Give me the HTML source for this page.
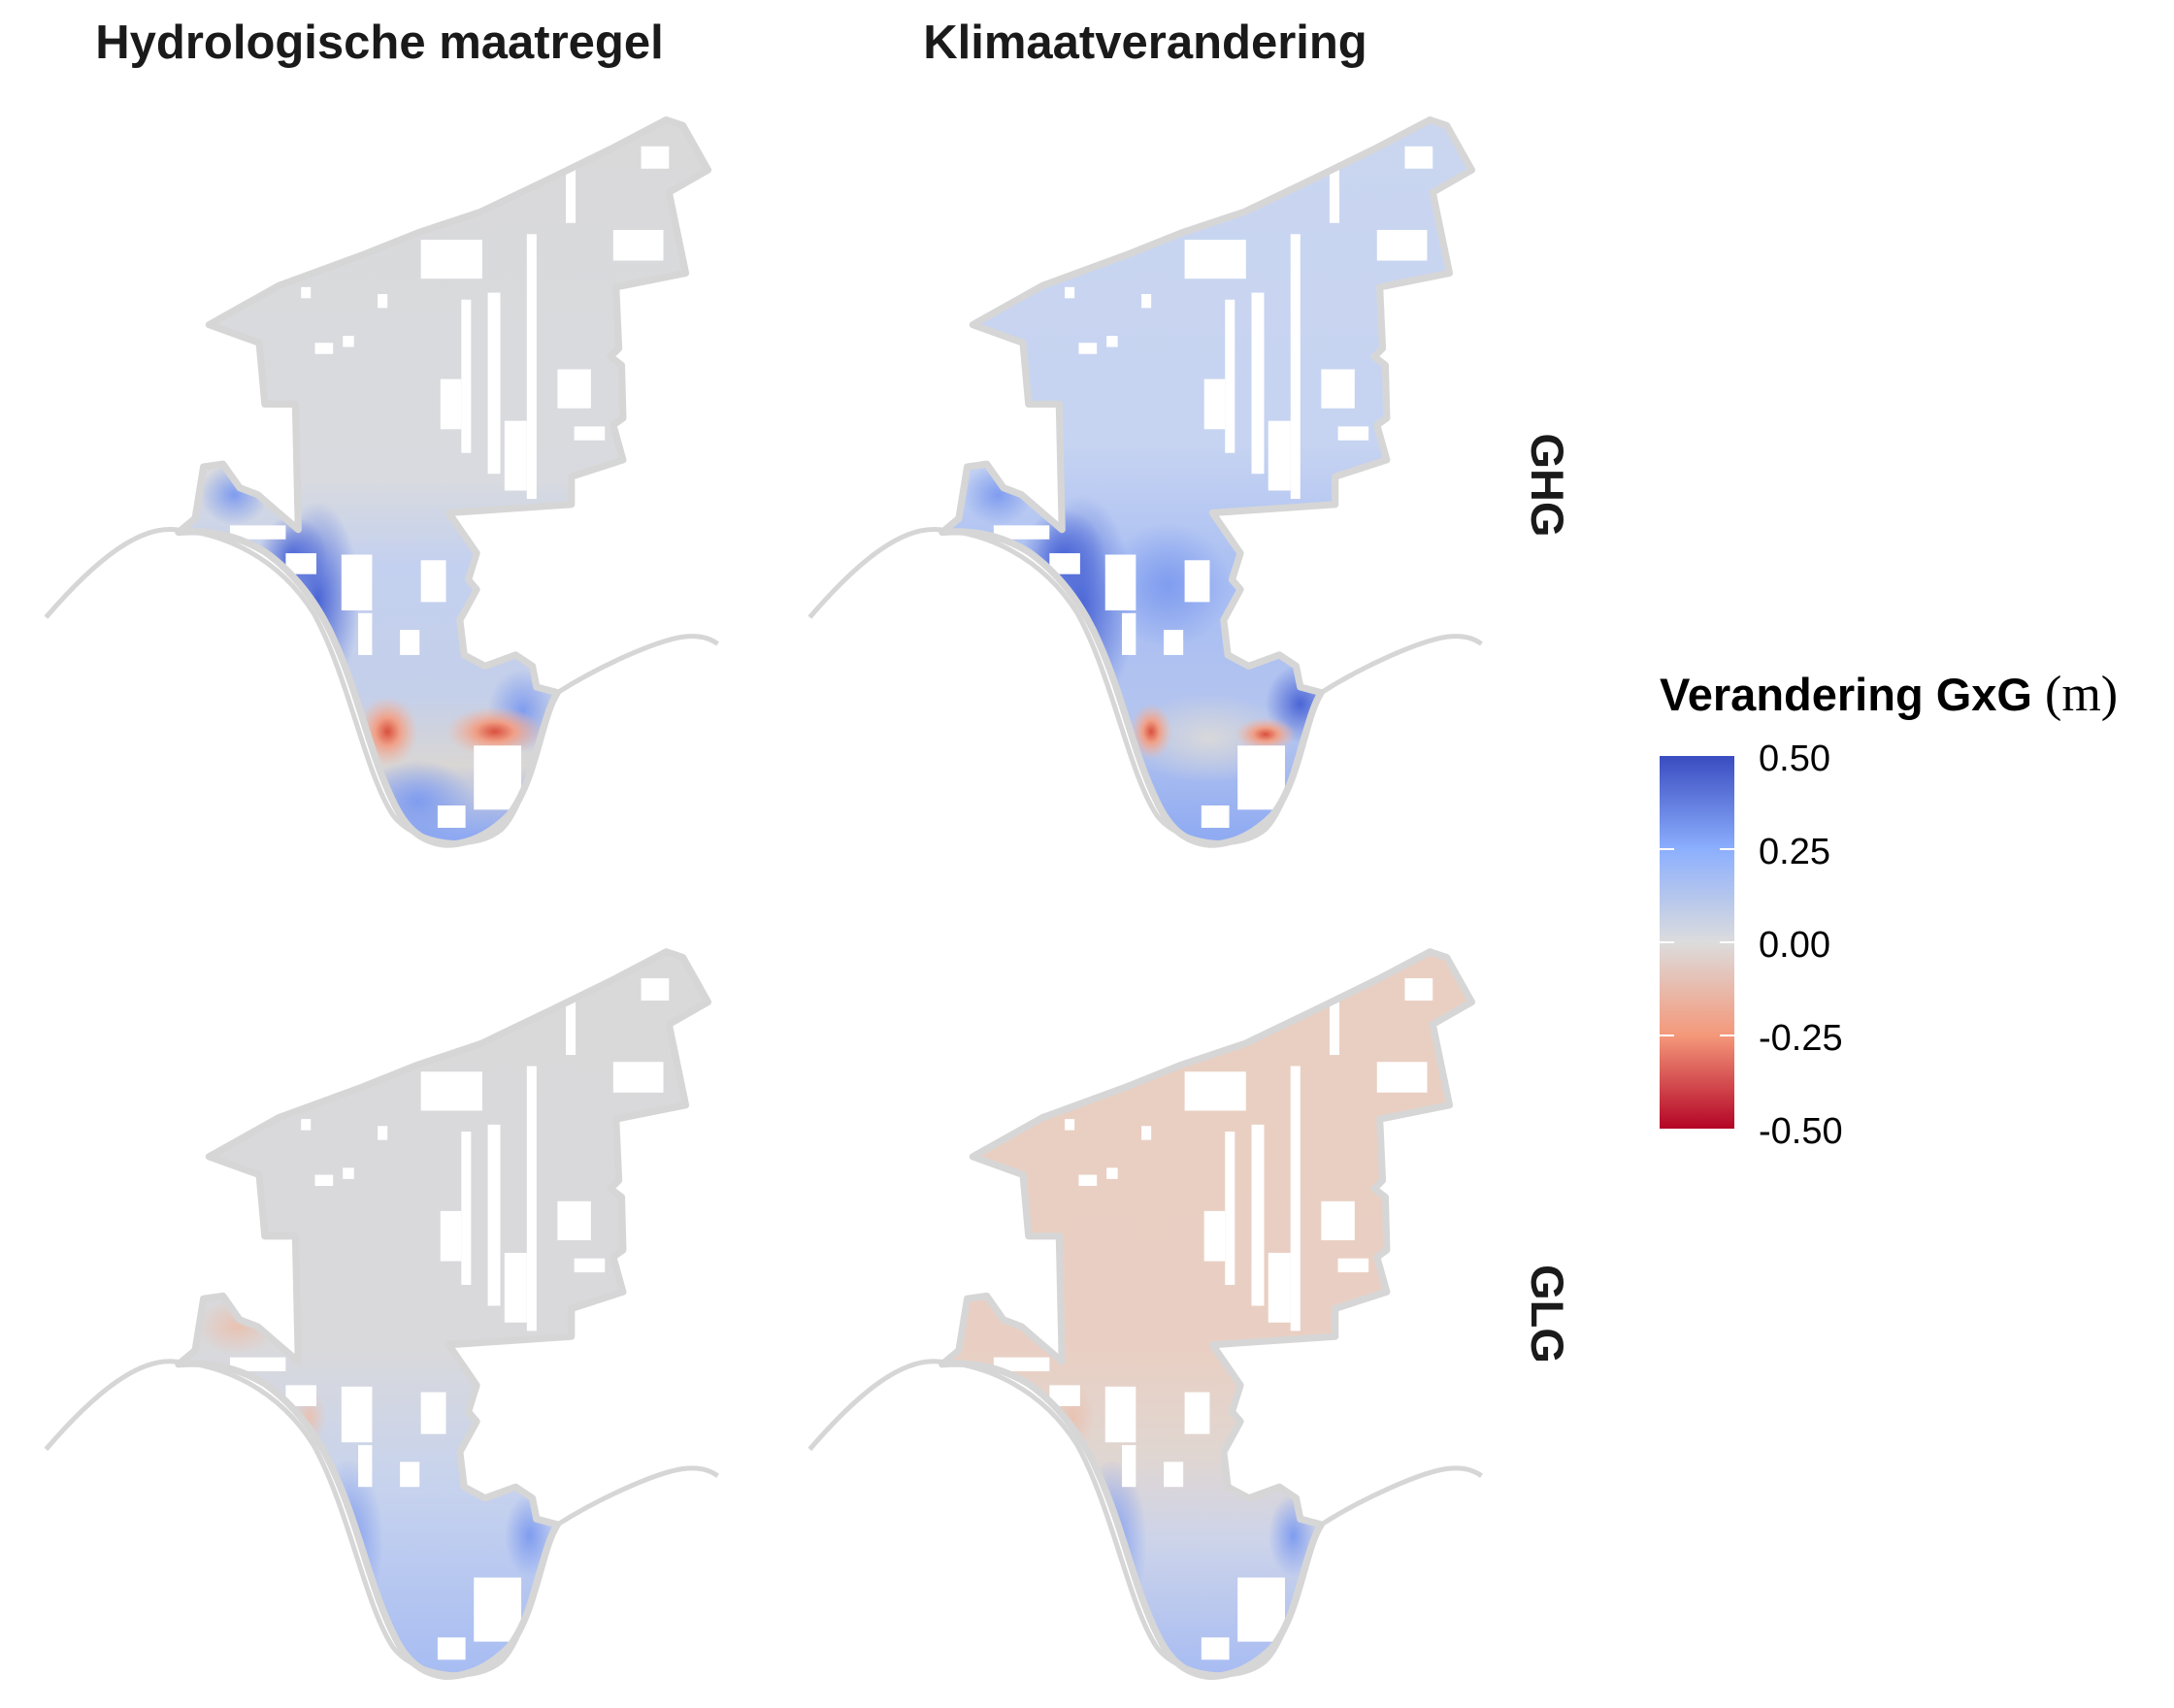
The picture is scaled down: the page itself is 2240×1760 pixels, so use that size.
<!DOCTYPE html>
<html><head><meta charset="utf-8"><style>
html,body{margin:0;padding:0;background:#fff;overflow:hidden;width:2240px;height:1760px}
svg{display:block}
</style></head><body>
<svg width="2240" height="1760" viewBox="0 0 2240 1760" xmlns="http://www.w3.org/2000/svg">
<defs>
<path id="shape" d="M150,233 L200,205 L260,183 L300,167 L345,152 L395,128 L440,106 L478,86 L490,90 L508,122 L480,138 L492,196 L442,206 L444,250 L438,256 L446,262 L447,300 L440,305 L447,330 L410,342 L410,362 L322,368 L342,397 L336,416 L342,423 L330,445 L333,470 L348,478 L370,470 L382,478 L385,493 L400,497 C388,515 385,560 365,585 C350,600 335,606 320,606 C300,604 290,592 282,575 C265,540 258,500 240,460 C228,432 210,410 190,396 C170,384 150,380 128,382 L140,372 L146,335 L160,333 L172,350 L185,355 L200,368 L214,380 L212,290 L190,290 L186,246 Z"/>
<clipPath id="cp"><use href="#shape"/></clipPath>
<g id="holes" fill="#fff">
<rect x="302" y="172" width="44" height="28"/>
<rect x="378" y="168" width="7" height="190"/>
<rect x="350" y="210" width="9" height="130"/>
<rect x="331" y="215" width="7" height="110"/>
<rect x="440" y="165" width="36" height="22"/>
<rect x="460" y="105" width="20" height="16"/>
<rect x="406" y="120" width="7" height="40"/>
<rect x="316" y="272" width="15" height="36"/>
<rect x="400" y="265" width="24" height="28"/>
<rect x="412" y="306" width="22" height="10"/>
<rect x="362" y="302" width="16" height="50"/>
<rect x="302" y="402" width="18" height="30"/>
<rect x="245" y="398" width="22" height="40"/>
<rect x="205" y="397" width="22" height="15"/>
<rect x="340" y="535" width="34" height="46"/>
<rect x="314" y="578" width="20" height="16"/>
<rect x="287" y="452" width="14" height="18"/>
<rect x="226" y="246" width="13" height="8"/>
<rect x="246" y="241" width="8" height="8"/>
<rect x="271" y="211" width="7" height="10"/>
<rect x="216" y="206" width="7" height="8"/>
<rect x="165" y="377" width="40" height="10"/>
<rect x="257" y="440" width="10" height="30"/>
</g>
<path id="coast" d="M33,443 C70,400 100,378 125,380 C160,382 200,400 225,440 C250,485 262,555 282,585 C298,606 340,612 360,595 C380,575 385,520 400,497 C430,478 470,460 490,457 C505,455 512,460 515,462"/>

<linearGradient id="gTL" x1="0" y1="90" x2="0" y2="600" gradientUnits="userSpaceOnUse">
<stop offset="0" stop-color="#d9d9da"/><stop offset="0.5" stop-color="#d8dadf"/><stop offset="0.62" stop-color="#c3d0ef"/><stop offset="0.8" stop-color="#c4cfea"/><stop offset="0.9" stop-color="#d9d6d4"/><stop offset="1" stop-color="#8ea9f2"/></linearGradient>
<linearGradient id="gTR" x1="0" y1="90" x2="0" y2="600" gradientUnits="userSpaceOnUse">
<stop offset="0" stop-color="#cad6f0"/><stop offset="0.45" stop-color="#c6d3f1"/><stop offset="0.65" stop-color="#a7bdf3"/><stop offset="0.85" stop-color="#b5c5ee"/><stop offset="1" stop-color="#90abf2"/></linearGradient>
<linearGradient id="gBL" x1="0" y1="90" x2="0" y2="600" gradientUnits="userSpaceOnUse">
<stop offset="0" stop-color="#d9d9da"/><stop offset="0.55" stop-color="#d9d9dc"/><stop offset="0.75" stop-color="#c6d2ee"/><stop offset="1" stop-color="#a8bdf2"/></linearGradient>
<linearGradient id="gBR" x1="0" y1="90" x2="0" y2="600" gradientUnits="userSpaceOnUse">
<stop offset="0" stop-color="#e9cfc2"/><stop offset="0.55" stop-color="#e9cfc3"/><stop offset="0.7" stop-color="#e0d6d1"/><stop offset="0.82" stop-color="#cdd4ea"/><stop offset="1" stop-color="#a9bdf2"/></linearGradient>
<radialGradient id="blueS" cx="0.5" cy="0.5" r="0.5"><stop offset="0" stop-color="#4a65d6"/><stop offset="1" stop-color="#4a65d6" stop-opacity="0"/></radialGradient>
<radialGradient id="blueW" cx="0.5" cy="0.5" r="0.5"><stop offset="0" stop-color="#7f9cef"/><stop offset="1" stop-color="#7f9cef" stop-opacity="0"/></radialGradient>
<radialGradient id="grayR" cx="0.5" cy="0.5" r="0.5"><stop offset="0" stop-color="#d8d8da"/><stop offset="1" stop-color="#d8d8da" stop-opacity="0"/></radialGradient>
<radialGradient id="red" cx="0.5" cy="0.5" r="0.5"><stop offset="0" stop-color="#d9503d"/><stop offset="0.4" stop-color="#f0a088"/><stop offset="1" stop-color="#f0b8a5" stop-opacity="0"/></radialGradient>
<radialGradient id="salmon" cx="0.5" cy="0.5" r="0.5"><stop offset="0" stop-color="#e9c2b2"/><stop offset="1" stop-color="#e9c2b2" stop-opacity="0"/></radialGradient>
<linearGradient id="leg" x1="0" y1="0" x2="0" y2="1">
<stop offset="0" stop-color="#3a4cc0"/><stop offset="0.25" stop-color="#8caffe"/><stop offset="0.5" stop-color="#dcdcdd"/><stop offset="0.75" stop-color="#f4987a"/><stop offset="1" stop-color="#b40426"/></linearGradient>
</defs>

<g transform="scale(1.436)">
<g>
<g clip-path="url(#cp)">
<rect x="0" y="0" width="600" height="700" fill="url(#gTL)"/>
<ellipse cx="228" cy="430" rx="30" ry="70" fill="url(#blueS)"/>
<ellipse cx="210" cy="400" rx="25" ry="30" fill="url(#blueS)"/>
<ellipse cx="300" cy="575" rx="40" ry="30" fill="url(#blueW)"/>
<ellipse cx="375" cy="510" rx="25" ry="30" fill="url(#blueW)"/>
<ellipse cx="168" cy="355" rx="25" ry="22" fill="url(#blueW)"/>
<ellipse cx="278" cy="525" rx="22" ry="25" fill="url(#red)"/>
<ellipse cx="355" cy="525" rx="35" ry="18" fill="url(#red)"/>
<use href="#holes"/>
</g>
<use href="#shape" fill="none" stroke="#d6d6d6" stroke-width="5" stroke-linejoin="round"/>
<use href="#coast" fill="none" stroke="#d6d6d6" stroke-width="3.5"/>
</g>
<g transform="translate(548,0)">
<g clip-path="url(#cp)">
<rect x="0" y="0" width="600" height="700" fill="url(#gTR)"/>
<ellipse cx="228" cy="435" rx="38" ry="80" fill="url(#blueS)"/>
<ellipse cx="215" cy="400" rx="30" ry="35" fill="url(#blueS)"/>
<ellipse cx="290" cy="420" rx="45" ry="45" fill="url(#blueW)"/>
<ellipse cx="385" cy="505" rx="25" ry="28" fill="url(#blueS)"/>
<ellipse cx="168" cy="355" rx="25" ry="22" fill="url(#blueW)"/>
<ellipse cx="320" cy="530" rx="60" ry="32" fill="url(#grayR)"/>
<ellipse cx="278" cy="525" rx="15" ry="20" fill="url(#red)"/>
<ellipse cx="360" cy="527" rx="22" ry="12" fill="url(#red)"/>
<use href="#holes"/>
</g>
<use href="#shape" fill="none" stroke="#d6d6d6" stroke-width="5" stroke-linejoin="round"/>
<use href="#coast" fill="none" stroke="#d6d6d6" stroke-width="3.5"/>
</g>
<g transform="translate(0,597)">
<g clip-path="url(#cp)">
<rect x="0" y="0" width="600" height="700" fill="url(#gBL)"/>
<ellipse cx="250" cy="510" rx="25" ry="60" fill="url(#blueW)"/>
<ellipse cx="380" cy="505" rx="18" ry="30" fill="url(#blueW)"/>
<ellipse cx="222" cy="420" rx="12" ry="20" fill="url(#salmon)"/>
<ellipse cx="170" cy="355" rx="30" ry="20" fill="url(#salmon)"/>
<use href="#holes"/>
</g>
<use href="#shape" fill="none" stroke="#d6d6d6" stroke-width="5" stroke-linejoin="round"/>
<use href="#coast" fill="none" stroke="#d6d6d6" stroke-width="3.5"/>
</g>
<g transform="translate(548,597)">
<g clip-path="url(#cp)">
<rect x="0" y="0" width="600" height="700" fill="url(#gBR)"/>
<ellipse cx="250" cy="510" rx="25" ry="60" fill="url(#blueW)"/>
<ellipse cx="380" cy="505" rx="18" ry="30" fill="url(#blueW)"/>
<ellipse cx="222" cy="420" rx="15" ry="25" fill="url(#salmon)"/>
<use href="#holes"/>
</g>
<use href="#shape" fill="none" stroke="#d6d6d6" stroke-width="5" stroke-linejoin="round"/>
<use href="#coast" fill="none" stroke="#d6d6d6" stroke-width="3.5"/>
</g>
</g>

<g font-family="Liberation Sans, sans-serif" fill="#1a1a1a">
<text x="391" y="60" font-size="49" font-weight="bold" text-anchor="middle">Hydrologische maatregel</text>
<text x="1180" y="60" font-size="49" font-weight="bold" text-anchor="middle">Klimaatverandering</text>
<text transform="translate(1578,500) rotate(90)" font-size="47" font-weight="bold" text-anchor="middle">GHG</text>
<text transform="translate(1578,1354) rotate(90)" font-size="47" font-weight="bold" text-anchor="middle">GLG</text>
</g>
<g font-family="Liberation Sans, sans-serif" fill="#000">
<text x="1710" y="732" font-size="47" font-weight="bold">Verandering GxG <tspan font-family="Liberation Serif, serif" font-weight="normal" font-size="52">(m)</tspan></text>
<rect x="1710" y="779" width="77" height="384" fill="url(#leg)"/>
<g stroke="#fff" stroke-width="2">
<line x1="1710" y1="875" x2="1725" y2="875"/><line x1="1772" y1="875" x2="1787" y2="875"/>
<line x1="1710" y1="971" x2="1725" y2="971"/><line x1="1772" y1="971" x2="1787" y2="971"/>
<line x1="1710" y1="1067" x2="1725" y2="1067"/><line x1="1772" y1="1067" x2="1787" y2="1067"/>
</g>
<g font-size="38">
<text x="1812" y="794">0.50</text>
<text x="1812" y="890">0.25</text>
<text x="1812" y="986">0.00</text>
<text x="1812" y="1082">-0.25</text>
<text x="1812" y="1178">-0.50</text>
</g>
</g>
</svg>
</body></html>
